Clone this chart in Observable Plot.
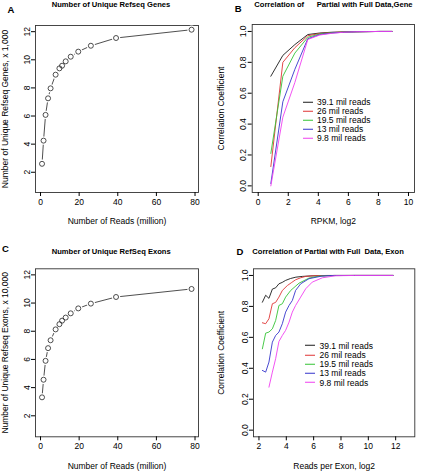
<!DOCTYPE html>
<html>
<head>
<meta charset="utf-8">
<script src="https://cdn.jsdelivr.net/npm/d3@7"></script>
<script src="https://cdn.jsdelivr.net/npm/@observablehq/plot@0.6"></script>
<style>
  html, body { margin: 0; padding: 0; background: #fff; }
  #root { position: relative; width: 431px; height: 471px; font-family: "Liberation Sans", Arial, Helvetica, sans-serif; color: #000; overflow: hidden; }
  .panel { position: absolute; }
  .txt { position: absolute; white-space: pre; line-height: 1; }
  .title { font-weight: bold; font-size: 7.6px; transform: translateY(-50%); }
  .letter { font-weight: bold; font-size: 9.5px; transform: translate(-50%, -50%); }
  .leg { position: absolute; font-size: 8.5px; line-height: 1; }
  .legrow { position: absolute; left: 0; white-space: pre; display: flex; align-items: center; transform: translateY(-50%); }
  .legline { display: inline-block; width: 10px; height: 0; border-top: 1px solid; margin-right: 4.5px; }
</style>
</head>
<body>
<div id="root"></div>
<script>
// ---------- Data ----------
// Panels A and C: number of reads (million)
const readsMillion = [0.78, 1.56, 2.61, 3.91, 5.21, 7.82, 9.78, 11.17, 13.03, 15.64, 19.55, 26.07, 39.1, 78.2];
const uniqueGenesK = [2.6, 4.25, 6.08, 7.26, 7.97, 8.94, 9.39, 9.58, 9.89, 10.22, 10.58, 11.0, 11.55, 12.14];
const uniqueExons10K = [3.31, 4.56, 5.9, 6.8, 7.36, 8.13, 8.5, 8.75, 8.97, 9.27, 9.62, 9.96, 10.43, 11.0];

// Series labels and colours (panels B and D)
const seriesLabels = ["39.1 mil reads", "26 mil reads", "19.5 mil reads", "13 mil reads", "9.8 mil reads"];
const seriesColors = ["#1a1a1a", "#e03535", "#35c435", "#3535cc", "#f040f0"];

// Panel B: correlation vs RPKM (log2)
const rpkmLog2 = [0.84, 1.64, 2.44, 3.3, 4.1, 4.9, 5.7, 6.5, 7.3, 8.1, 8.9];
const geneCorr39 = [0.71, 0.845, 0.915, 0.98, 0.99, 0.995, 0.997, 0.998, 0.999, 1.0, 1.0];
const geneCorr26 = [0.125, 0.80, 0.895, 0.972, 0.987, 0.993, 0.997, 0.998, 0.999, 1.0, 1.0];
const geneCorr19 = [0.21, 0.71, 0.86, 0.962, 0.984, 0.992, 0.996, 0.998, 0.999, 1.0, 1.0];
const geneCorr13 = [0.015, 0.545, 0.755, 0.953, 0.98, 0.99, 0.995, 0.998, 0.999, 1.0, 1.0];
const geneCorr9 = [0.0, 0.445, 0.67, 0.948, 0.977, 0.988, 0.995, 0.998, 0.999, 1.0, 1.0];

// Panel D: correlation vs reads per exon (log2)
const exonX39 = [2.25, 2.49, 2.73, 2.98, 3.22, 3.46, 3.7, 3.95, 4.3, 4.7, 5.2, 5.8, 7, 9, 11.8];
const exonCorr39 = [0.827, 0.872, 0.852, 0.912, 0.92, 0.946, 0.955, 0.968, 0.98, 0.989, 0.994, 0.997, 0.999, 1.0, 1.0];
const exonX26 = [2.25, 2.49, 2.73, 2.98, 3.22, 3.46, 3.71, 4.08, 4.4, 4.68, 5.05, 5.42, 6, 7, 9, 11.8];
const exonCorr26 = [0.694, 0.688, 0.72, 0.817, 0.826, 0.86, 0.903, 0.935, 0.955, 0.972, 0.985, 0.994, 0.998, 1, 1, 1];
const exonX19 = [2.25, 2.49, 2.73, 2.98, 3.22, 3.46, 3.71, 3.95, 4.32, 4.93, 5.66, 6.4, 7.5, 9, 11.8];
const exonCorr19 = [0.526, 0.627, 0.634, 0.655, 0.709, 0.806, 0.817, 0.86, 0.903, 0.95, 0.983, 0.996, 1, 1, 1];
const exonX13 = [2.25, 2.49, 2.73, 2.98, 3.22, 3.46, 3.71, 3.95, 4.2, 4.44, 4.68, 5.05, 5.66, 6.6, 7.5, 9, 11.8];
const exonCorr13 = [0.386, 0.375, 0.44, 0.569, 0.612, 0.634, 0.688, 0.763, 0.806, 0.838, 0.903, 0.946, 0.979, 0.996, 1, 1, 1];
const exonX9 = [2.73, 2.98, 3.22, 3.46, 3.71, 3.95, 4.2, 4.44, 4.68, 5.05, 5.42, 5.9, 6.64, 7.6, 9, 11.8];
const exonCorr9 = [0.278, 0.375, 0.462, 0.573, 0.612, 0.645, 0.698, 0.763, 0.806, 0.86, 0.914, 0.957, 0.985, 0.998, 1, 1];

// Tick values
const readsTicks = [0, 20, 40, 60, 80];
const countTicks = [2, 4, 6, 8, 10, 12];
const corrTicks = [0, 0.2, 0.4, 0.6, 0.8, 1.0];
const rpkmTicks = [0, 2, 4, 6, 8, 10];
const exonTicks = [2, 4, 6, 8, 10, 12];

// ---------- Helpers ----------
const FONT = "Liberation Sans, Arial, Helvetica, sans-serif";
const root = document.getElementById("root");

function place(el, left, top) {
  const d = document.createElement("div");
  d.className = "panel";
  d.style.left = left + "px";
  d.style.top = top + "px";
  d.appendChild(el);
  root.appendChild(d);
}
function addText(cls, text, x, y) {
  const d = document.createElement("div");
  d.className = "txt " + cls;
  d.textContent = text;
  d.style.left = x + "px";
  d.style.top = y + "px";
  root.appendChild(d);
}
function addLegend(x, y, step) {
  const box = document.createElement("div");
  box.className = "leg";
  box.style.left = x + "px";
  box.style.top = y + "px";
  seriesLabels.forEach((lab, i) => {
    const row = document.createElement("div");
    row.className = "legrow";
    row.style.top = (i * step) + "px";
    const ln = document.createElement("span");
    ln.className = "legline";
    ln.style.borderTopColor = seriesColors[i];
    row.appendChild(ln);
    row.appendChild(document.createTextNode(lab));
    box.appendChild(row);
  });
  root.appendChild(box);
}
const pairs = (xs, ys) => xs.map((x, i) => ({x, y: ys[i]}));

function countPanel({width, height, margins, xDomain, yDomain, values, xLabel, yLabel, xLabelOffset, yLabelOffset}) {
  const data = pairs(readsMillion, values);
  return Plot.plot({
    width, height,
    marginLeft: margins[0], marginRight: margins[1], marginTop: margins[2], marginBottom: margins[3],
    style: {fontFamily: FONT, fontSize: "8.5px", background: "white", color: "black"},
    x: {domain: xDomain},
    y: {domain: yDomain},
    marks: [
      Plot.frame({stroke: "#333", strokeWidth: 0.9}),
      Plot.axisX({ticks: readsTicks, tickSize: 4, tickPadding: 2.5, tickFormat: d3.format("d"),
        label: xLabel, labelAnchor: "center", labelArrow: "none", labelOffset: xLabelOffset}),
      Plot.axisY({ticks: countTicks, tickSize: 4, tickPadding: 2, tickRotate: -90, tickFormat: d3.format("d"),
        label: yLabel, labelAnchor: "center", labelArrow: "none", labelOffset: yLabelOffset}),
      Plot.line(data, {x: "x", y: "y", stroke: "#222", strokeWidth: 0.8}),
      Plot.dot(data, {x: "x", y: "y", r: 4.2, fill: "white", stroke: "none"}),
      Plot.dot(data, {x: "x", y: "y", r: 2.5, fill: "none", stroke: "#222", strokeWidth: 0.8})
    ]
  });
}

function corrPanel({width, height, margins, xDomain, yDomain, xTicks, series, xLabel, xLabelOffset, yLabelOffset}) {
  const marks = [
    Plot.frame({stroke: "#333", strokeWidth: 0.9}),
    Plot.axisX({ticks: xTicks, tickSize: 4, tickPadding: 2.5, tickFormat: d3.format("d"),
      label: xLabel, labelAnchor: "center", labelArrow: "none", labelOffset: xLabelOffset}),
    Plot.axisY({ticks: corrTicks, tickSize: 4, tickPadding: 2, tickRotate: -90, tickFormat: d3.format(".1f"),
      label: "Correlation Coefficient", labelAnchor: "center", labelArrow: "none", labelOffset: yLabelOffset})
  ];
  series.forEach(([xs, ys], i) => {
    marks.push(Plot.line(pairs(xs, ys), {x: "x", y: "y", stroke: seriesColors[i], strokeWidth: 0.9}));
  });
  return Plot.plot({
    width, height,
    marginLeft: margins[0], marginRight: margins[1], marginTop: margins[2], marginBottom: margins[3],
    style: {fontFamily: FONT, fontSize: "8.5px", background: "white", color: "black"},
    x: {domain: xDomain},
    y: {domain: yDomain},
    marks
  });
}

// ---------- Panel A ----------
place(countPanel({
  width: 215, height: 235, margins: [35, 17, 25, 43],
  xDomain: [-2.6, 81.8], yDomain: [0.56, 12.44], values: uniqueGenesK,
  xLabel: "Number of Reads (million)", yLabel: "Number of Unique Refseq Genes, x 1,000",
  xLabelOffset: 31, yLabelOffset: 34
}), 0, 0);

// ---------- Panel B ----------
place(corrPanel({
  width: 216, height: 235, margins: [36.7, 17, 24, 43],
  xDomain: [-0.4, 10.4], yDomain: [-0.043, 1.045], xTicks: rpkmTicks,
  series: [[rpkmLog2, geneCorr39], [rpkmLog2, geneCorr26], [rpkmLog2, geneCorr19], [rpkmLog2, geneCorr13], [rpkmLog2, geneCorr9]],
  xLabel: "RPKM, log2", xLabelOffset: 31, yLabelOffset: 34.5
}), 215, 0);

// ---------- Panel C ----------
place(countPanel({
  width: 215, height: 236, margins: [35, 17, 33.3, 34.7],
  xDomain: [-2.6, 81.8], yDomain: [0.51, 12.43], values: uniqueExons10K,
  xLabel: "Number of Reads (million)", yLabel: "Number of Unique Refseq Exons, x 10,000",
  xLabelOffset: 32.5, yLabelOffset: 34
}), 0, 235);

// ---------- Panel D ----------
place(corrPanel({
  width: 216, height: 236, margins: [38, 16.7, 33.3, 34.7],
  xDomain: [1.6, 13.4], yDomain: [-0.043, 1.043], xTicks: exonTicks,
  series: [[exonX39, exonCorr39], [exonX26, exonCorr26], [exonX19, exonCorr19], [exonX13, exonCorr13], [exonX9, exonCorr9]],
  xLabel: "Reads per Exon, log2", xLabelOffset: 32.5, yLabelOffset: 36
}), 215, 235);

// ---------- Titles and panel letters ----------
addText("title", "Number of Unique Refseq Genes", 51.7, 4.8);
addText("title", "Correlation of      Partial with Full Data,Gene", 254.3, 4.8);
addText("title", "Number of Unique RefSeq Exons", 51.7, 252.3);
addText("title", "Correlation of Partial with Full  Data, Exon", 252.3, 252.3);
addText("letter", "A", 11, 9.5);
addText("letter", "B", 238.3, 8.5);
addText("letter", "C", 5.5, 248.5);
addText("letter", "D", 240, 251.7);

// ---------- Legends ----------
addLegend(302.5, 102, 9.1);
addLegend(305, 345.7, 9.25);
</script>
</body>
</html>
